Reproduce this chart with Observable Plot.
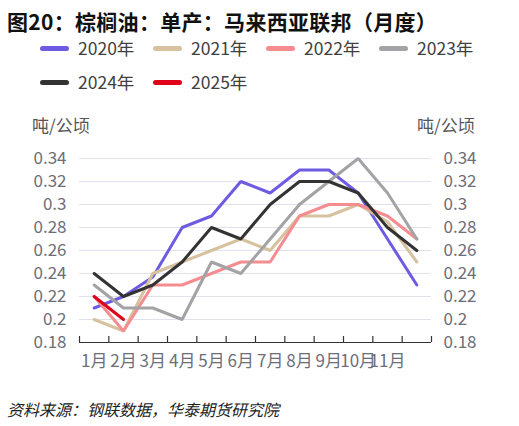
<!DOCTYPE html>
<html>
<head>
<meta charset="utf-8">
<script src="https://cdn.jsdelivr.net/npm/d3@7"></script>
<script src="https://cdn.jsdelivr.net/npm/@observablehq/plot@0.6"></script>
<style>
  body { margin: 0; background: #fff; font-family: "Noto Sans CJK SC", "Noto Sans", sans-serif; }
  #wrap { position: relative; width: 519px; height: 426px; overflow: hidden; }
  .abs { position: absolute; white-space: nowrap; }
  #title { left: 7px; top: 8px; font-size: 21px; line-height: 26px; font-weight: bold; color: #111; letter-spacing: 0.3px; }
  .unit { top: 112px; font-size: 17px; color: #555; }
  #source { left: 7px; top: 397px; font-size: 16px; font-style: italic; color: #222; }
  .leg { display: flex; align-items: center; font-size: 17.5px; line-height: 22px; color: #404040; }
  .sw { width: 29px; height: 5px; border-radius: 3px; margin-right: 9px; }
  #chart { left: 0; top: 110px; }
</style>
</head>
<body>
<div id="wrap">
  <div id="title" class="abs">图20：棕榈油：单产：马来西亚联邦（月度）</div>
  <div id="legend"></div>
  <div class="abs unit" style="left:32px">吨/公顷</div>
  <div class="abs unit" style="left:417px">吨/公顷</div>
  <div id="chart" class="abs"></div>
  <div id="source" class="abs">资料来源：钢联数据，华泰期货研究院</div>
</div>
<script>
// 数据
const years = ["2020年", "2021年", "2022年", "2023年", "2024年", "2025年"]
const colors = ["#6d5ce2", "#d6c29f", "#f58c90", "#a3a3a6", "#333333", "#e0001b"]
const months = [1, 2, 3, 4, 5, 6, 7, 8, 9, 10, 11, 12]
const monthLabels = ["1月", "2月", "3月", "4月", "5月", "6月", "7月", "8月", "9月", "10月", "11月", ""]
const yTicks = [0.18, 0.2, 0.22, 0.24, 0.26, 0.28, 0.3, 0.32, 0.34]

const y2020 = [0.21, 0.22, 0.237, 0.28, 0.29, 0.32, 0.31, 0.33, 0.33, 0.31, 0.27, 0.23]
const y2021 = [0.20, 0.19, 0.24, 0.25, 0.26, 0.27, 0.26, 0.29, 0.29, 0.30, 0.285, 0.25]
const y2022 = [0.22, 0.19, 0.23, 0.23, 0.24, 0.25, 0.25, 0.29, 0.30, 0.30, 0.29, 0.27]
const y2023 = [0.23, 0.21, 0.21, 0.20, 0.25, 0.24, 0.27, 0.30, 0.32, 0.34, 0.31, 0.27]
const y2024 = [0.24, 0.22, 0.23, 0.25, 0.28, 0.27, 0.30, 0.32, 0.32, 0.31, 0.28, 0.26]
const y2025 = [0.22, 0.20]

const series = [y2020, y2021, y2022, y2023, y2024, y2025]
const data = series.flatMap((vals, i) =>
  vals.map((v, j) => ({ year: years[i], month: months[j], value: v })))

// 月份之间的分隔刻度
const bounds = [0.5, ...months.map(m => m + 0.5)]

// 图例
const legend = d3.select("#legend")
years.forEach((y, i) => {
  const row = Math.floor(i / 4), col = i % 4
  const item = legend.append("div")
    .attr("class", "abs leg")
    .style("left", (40 + col * 113) + "px")
    .style("top", (37 + row * 34) + "px")
  item.append("div").attr("class", "sw").style("background", colors[i])
  item.append("span").text(y)
})

const fmt = d => String(+d.toFixed(2))

let chart = Plot.plot({
  width: 519,
  height: 275,
  marginLeft: 79,
  marginRight: 88,
  marginTop: 48,
  marginBottom: 43,
  style: { fontFamily: "'Noto Sans CJK SC', 'Noto Sans', sans-serif", background: "transparent" },
  x: { domain: [0.5, 12.5] },
  y: { domain: [0.18, 0.34] },
  color: { domain: years, range: colors },
  marks: [
    Plot.gridY(yTicks.slice(1), { stroke: "#dfe2ec", strokeOpacity: 1 }),
    Plot.axisY(yTicks, { anchor: "left", tickSize: 0, tickPadding: 13, label: null, tickFormat: fmt, fontSize: 17, fill: "#6e6e78" }),
    Plot.axisY(yTicks, { anchor: "right", tickSize: 0, tickPadding: 12, label: null, tickFormat: fmt, fontSize: 17, fill: "#6e6e78" }),
    Plot.axisX(months, { tickSize: 0, tickPadding: 12, label: null, tickFormat: m => monthLabels[m - 1], fontSize: 17, fill: "#6e6e78" }),
    Plot.ruleX(bounds, { y1: 0.18, y2: 0.1852, stroke: "#333", strokeWidth: 1.2 }),
    Plot.ruleY([0.18], { stroke: "#333", strokeWidth: 1.2 }),
    Plot.line(data, { x: "month", y: "value", z: "year", stroke: "year", strokeWidth: 3, strokeLinejoin: "miter" })
  ]
})

d3.select("#chart").append(() => chart)
</script>
</body>
</html>
